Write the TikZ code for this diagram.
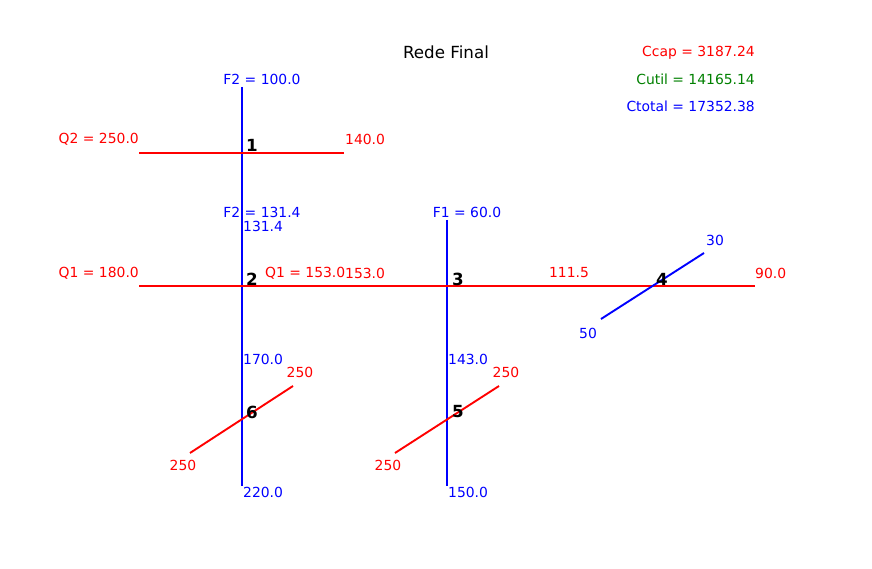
\documentclass[tikz,border=0pt]{standalone}
\usepackage{fontspec}
\setmainfont{DejaVu Sans}
\definecolor{mplgreen}{HTML}{008000}

\begin{document}
\begin{tikzpicture}[x=1pt, y=-1pt,
    stream/.style={line width=1.9pt},
    lbl/.style={font=\fontsize{13.9}{16}\selectfont, inner sep=0pt},
    num/.style={font=\fontsize{16.7}{18}\selectfont\bfseries, inner sep=0pt, anchor=west}]
    \useasboundingbox (0,0) rectangle (872,569);
    \node[lbl, font=\fontsize{16.7}{19}\selectfont] (title) at (446,52) {Rede Final};

    % correntes
    \coordinate (F2top) at (242,87); \coordinate (F2bot) at (242,486);
    \coordinate (F1top) at (447,220); \coordinate (F1bot) at (447,486);
    \coordinate (Q2in) at (139,153); \coordinate (Q2out) at (344,153);
    \coordinate (Q1in) at (139,286); \coordinate (Q1out) at (755,286);
    \draw[stream, blue] (F2top) -- (F2bot);
    \draw[stream, blue] (F1top) -- (F1bot);
    \draw[stream, red] (Q2in) -- (Q2out);
    \draw[stream, red] (Q1in) -- (Q1out);

    % utilidades
    \coordinate (U4a) at (601,319); \coordinate (U4b) at (704,253);
    \coordinate (U6a) at (190,453); \coordinate (U6b) at (293,386);
    \coordinate (U5a) at (395,453); \coordinate (U5b) at (499,386);
    \draw[stream, blue] (U4a) -- (U4b);
    \draw[stream, red] (U6a) -- (U6b);
    \draw[stream, red] (U5a) -- (U5b);

    \foreach \n/\x/\y in {1/246/145, 2/246/279, 3/452/279, 4/656/279, 5/452/412, 6/246/412} {
        \node[num] (n\n) at (\x,\y) {\n};
    }

    % temperaturas
    \node[lbl, blue] (tF2in) at (262,79) {F2 = 100.0};
    \node[lbl, red, anchor=east] (tQ2in) at (139,139) {Q2 = 250.0};
    \node[lbl, red, anchor=west] (tQ2out) at (345,139) {140.0};
    \node[lbl, blue] (tF2mid) at (262,212) {F2 = 131.4};
    \node[lbl, blue, anchor=west] (t131) at (243,226) {131.4};
    \node[lbl, blue] (tF1in) at (467,212) {F1 = 60.0};
    \node[lbl, red, anchor=east] (tQ1in) at (139,273) {Q1 = 180.0};
    \node[lbl, red, anchor=west] (tQ1mid) at (265,273) {Q1 = 153.0};
    \node[lbl, red, anchor=west] (t153) at (345,273) {153.0};
    \node[lbl, red] (t111) at (569,273) {111.5};
    \node[lbl, red, anchor=west] (tQ1out) at (755,273) {90.0};
    \node[lbl, blue] (t30) at (715,240) {30};
    \node[lbl, blue] (t50) at (588,333) {50};
    \node[lbl, blue, anchor=west] (t170) at (243,359) {170.0};
    \node[lbl, blue, anchor=west] (t143) at (448,359) {143.0};
    \node[lbl, red] (t6b) at (300,372) {250};
    \node[lbl, red] (t6a) at (183,465) {250};
    \node[lbl, red] (t5b) at (506,372) {250};
    \node[lbl, red] (t5a) at (388,465) {250};
    \node[lbl, blue, anchor=west] (tF2out) at (243,492) {220.0};
    \node[lbl, blue, anchor=west] (tF1out) at (448,492) {150.0};

    % custos
    \node[lbl, red, anchor=east] (ccap) at (755,53) {Ccap = 3187.24};
    \node[lbl, mplgreen, anchor=east] (cutil) at (755,79) {Cutil = 14165.14};
    \node[lbl, blue, anchor=east] (ctotal) at (755,106) {Ctotal = 17352.38};
\end{tikzpicture}
\end{document}
